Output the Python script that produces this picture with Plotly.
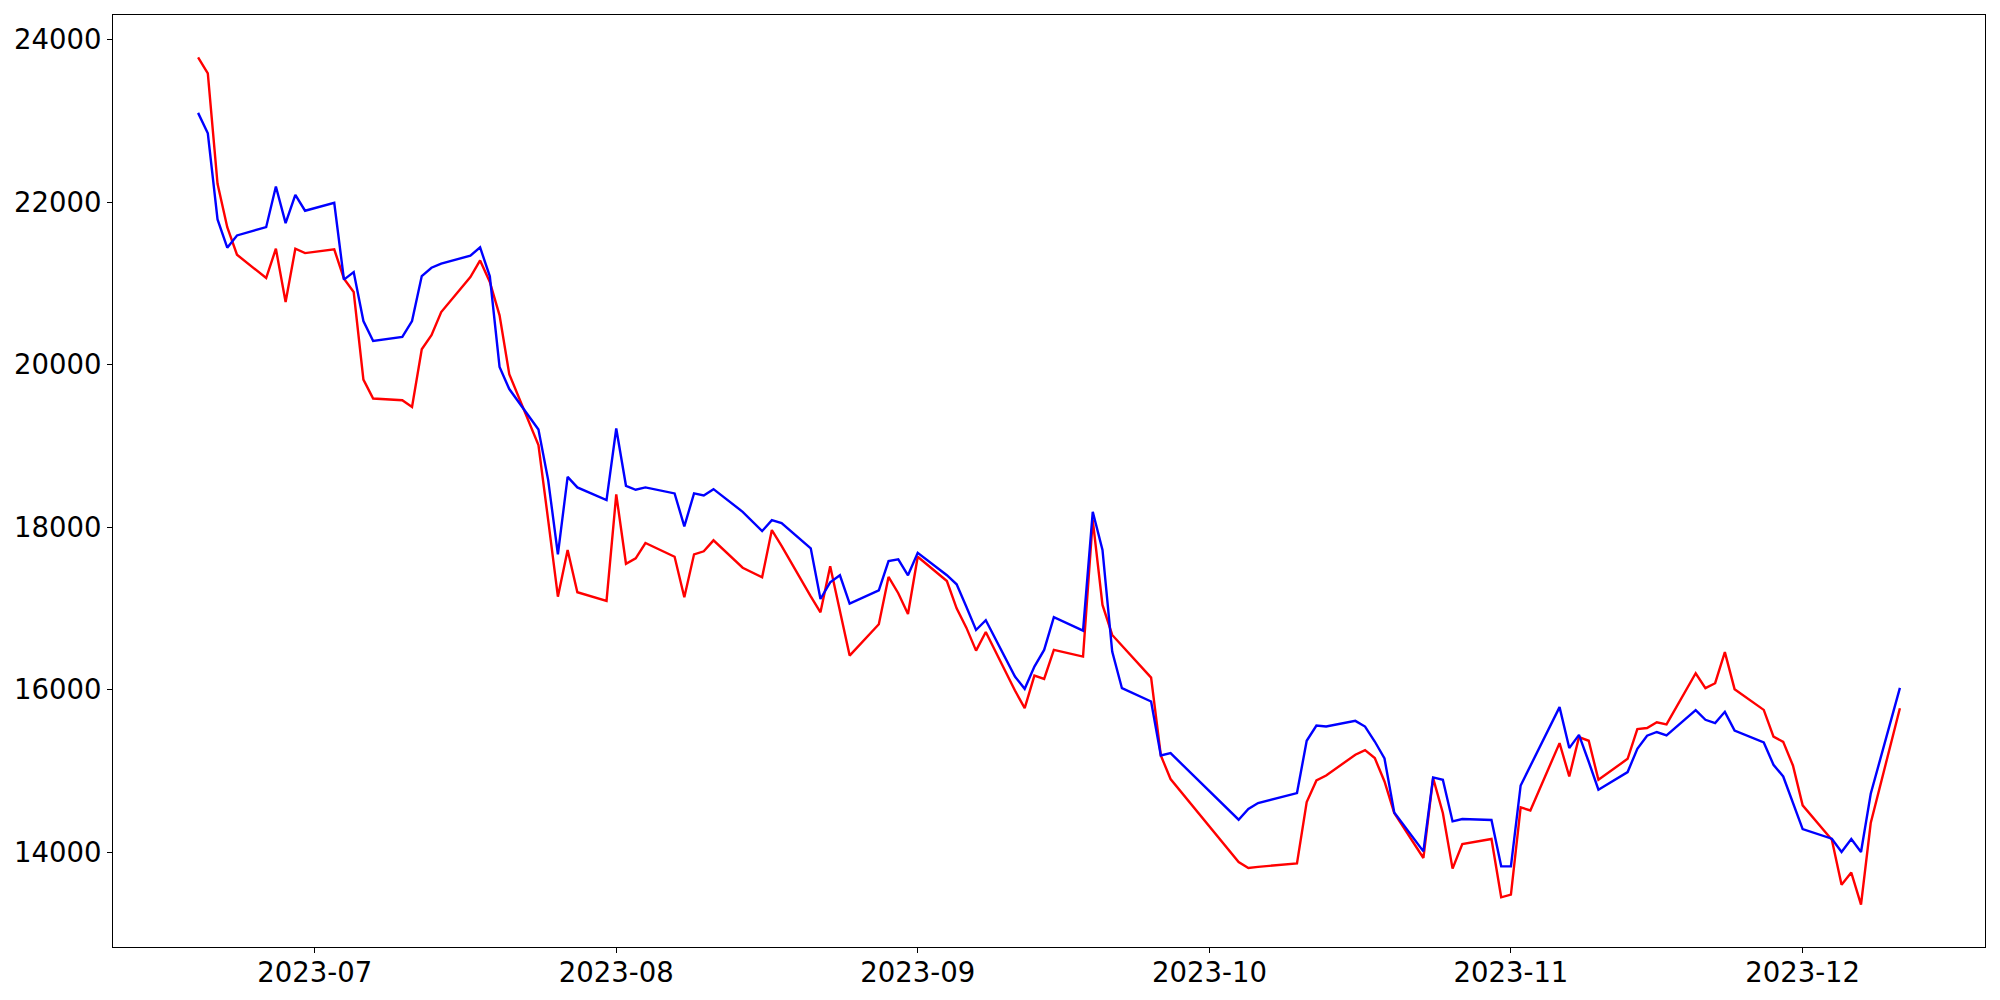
import pandas as pd
import plotly.graph_objects as go

dates = [
    "2023-06-19", "2023-06-20", "2023-06-21", "2023-06-22", "2023-06-23",
    "2023-06-26", "2023-06-27", "2023-06-28", "2023-06-29", "2023-06-30",
    "2023-07-03", "2023-07-04", "2023-07-05", "2023-07-06", "2023-07-07",
    "2023-07-10", "2023-07-11", "2023-07-12", "2023-07-13", "2023-07-14",
    "2023-07-17", "2023-07-18", "2023-07-19", "2023-07-20", "2023-07-21",
    "2023-07-24", "2023-07-25", "2023-07-26", "2023-07-27", "2023-07-28",
    "2023-07-31", "2023-08-01", "2023-08-02", "2023-08-03", "2023-08-04",
    "2023-08-07", "2023-08-08", "2023-08-09", "2023-08-10", "2023-08-11",
    "2023-08-14", "2023-08-16", "2023-08-17", "2023-08-18",
    "2023-08-21", "2023-08-22", "2023-08-23", "2023-08-24", "2023-08-25",
    "2023-08-28", "2023-08-29", "2023-08-30", "2023-08-31", "2023-09-01",
    "2023-09-04", "2023-09-05", "2023-09-06", "2023-09-07", "2023-09-08",
    "2023-09-11", "2023-09-12", "2023-09-13", "2023-09-14", "2023-09-15",
    "2023-09-18", "2023-09-19", "2023-09-20", "2023-09-21", "2023-09-22",
    "2023-09-25", "2023-09-26", "2023-09-27",
    "2023-10-04", "2023-10-05", "2023-10-06",
    "2023-10-10", "2023-10-11", "2023-10-12", "2023-10-13",
    "2023-10-16", "2023-10-17", "2023-10-18", "2023-10-19", "2023-10-20",
    "2023-10-23", "2023-10-24", "2023-10-25", "2023-10-26", "2023-10-27",
    "2023-10-30", "2023-10-31", "2023-11-01", "2023-11-02", "2023-11-03",
    "2023-11-06", "2023-11-07", "2023-11-08", "2023-11-09", "2023-11-10",
    "2023-11-13", "2023-11-14", "2023-11-15", "2023-11-16", "2023-11-17",
    "2023-11-20", "2023-11-21", "2023-11-22", "2023-11-23", "2023-11-24",
    "2023-11-27", "2023-11-28", "2023-11-29", "2023-11-30", "2023-12-01",
    "2023-12-04", "2023-12-05", "2023-12-06", "2023-12-07", "2023-12-08",
    "2023-12-11",
]

red_values = [
    23781, 23585, 22226, 21692, 21353,
    21066, 21427, 20771, 21427, 21373,
    21418, 21058, 20894, 19817, 19584,
    19563, 19480, 20189, 20362, 20648,
    21078, 21283, 21017, 20607, 19882,
    19010, 18088, 17146, 17720, 17200,
    17093, 18404, 17551, 17618, 17806,
    17637, 17138, 17667, 17704, 17839,
    17502, 17384, 17965, 17770,
    17150, 16954, 17519, 16970, 16421,
    16807, 17388, 17188, 16933, 17637,
    17339, 17003, 16765, 16482, 16712,
    15991, 15774, 16175, 16134, 16491,
    16409, 18088, 17044, 16675, 16544,
    16150, 15192, 14902,
    13882, 13808, 13821,
    13865, 14619, 14885, 14946,
    15201, 15258, 15160, 14872, 14484,
    13931, 14914, 14484, 13800, 14103,
    14165, 13447, 13480, 14553, 14516,
    15344, 14934, 15418, 15373, 14893,
    15151, 15516, 15530, 15600, 15575,
    16204, 16020, 16081, 16463, 16008,
    15753, 15425, 15360, 15069, 14578,
    14156, 13603, 13751, 13357, 14361,
    15774,
]

blue_values = [
    23098, 22847, 21787, 21439, 21590,
    21692, 22192, 21741, 22090, 21894,
    21992, 21046, 21139, 20537, 20291,
    20341, 20537, 21090, 21193, 21243,
    21341, 21443, 21087, 19972, 19700,
    19203, 18580, 17667, 18620, 18490,
    18334, 19215, 18510, 18461, 18490,
    18416, 18011, 18416, 18392, 18469,
    18190, 17953, 18088, 18050,
    17740, 17117, 17323, 17409, 17060,
    17224, 17584, 17605, 17409, 17686,
    17410, 17298, 17023, 16736, 16856,
    16163, 16012, 16286, 16491, 16893,
    16728, 18190, 17720, 16470, 16020,
    15856, 15192, 15221,
    14402, 14533, 14607,
    14730, 15373, 15561, 15548,
    15618, 15548, 15364, 15155, 14490,
    14012, 14922, 14893, 14381, 14410,
    14398, 13828, 13828, 14823, 15069,
    15787, 15283, 15446, 15115, 14771,
    14988, 15274, 15435, 15481, 15440,
    15750, 15631, 15590, 15729, 15499,
    15352, 15078, 14934, 14607, 14287,
    14168, 14005, 14165, 14005, 14721,
    16024,
]

y_ticks = [14000, 16000, 18000, 20000, 22000, 24000]
x_ticks = ["2023-07-01", "2023-08-01", "2023-09-01", "2023-10-01", "2023-11-01", "2023-12-01"]

x = pd.to_datetime(dates)

# matplotlib-like 5% margins
x_span = x.max() - x.min()
x_range = [x.min() - 0.05 * x_span, x.max() + 0.05 * x_span]
all_vals = red_values + blue_values
y_min, y_max = min(all_vals), max(all_vals)
y_pad = 0.05 * (y_max - y_min)
y_range = [y_min - y_pad, y_max + y_pad]

fig = go.Figure()
fig.add_trace(go.Scatter(x=x, y=red_values, mode="lines",
                         line=dict(color="#ff0000", width=2.4), showlegend=False))
fig.add_trace(go.Scatter(x=x, y=blue_values, mode="lines",
                         line=dict(color="#0000ff", width=2.4), showlegend=False))

font = dict(family="DejaVu Sans", size=27.5, color="black")

fig.update_layout(
    width=1992, height=992,
    margin=dict(l=105, r=15, t=7, b=53, pad=0),
    paper_bgcolor="white", plot_bgcolor="white",
    font=font,
    showlegend=False,
)
fig.update_xaxes(
    range=x_range, tickvals=pd.to_datetime(x_ticks), tickformat="%Y-%m",
    showgrid=False, zeroline=False, automargin=False,
    showline=True, mirror=True, linecolor="black", linewidth=1.1,
    ticks="outside", ticklen=5, tickwidth=1.1, tickcolor="black",
    tickfont=font, ticklabelstandoff=-4,
)
fig.update_yaxes(
    range=y_range, tickvals=y_ticks, tickformat="d",
    showgrid=False, zeroline=False, automargin=False,
    showline=True, mirror=True, linecolor="black", linewidth=1.1,
    ticks="outside", ticklen=5, tickwidth=1.1, tickcolor="black",
    tickfont=font,
)

fig.write_html("out.html")
